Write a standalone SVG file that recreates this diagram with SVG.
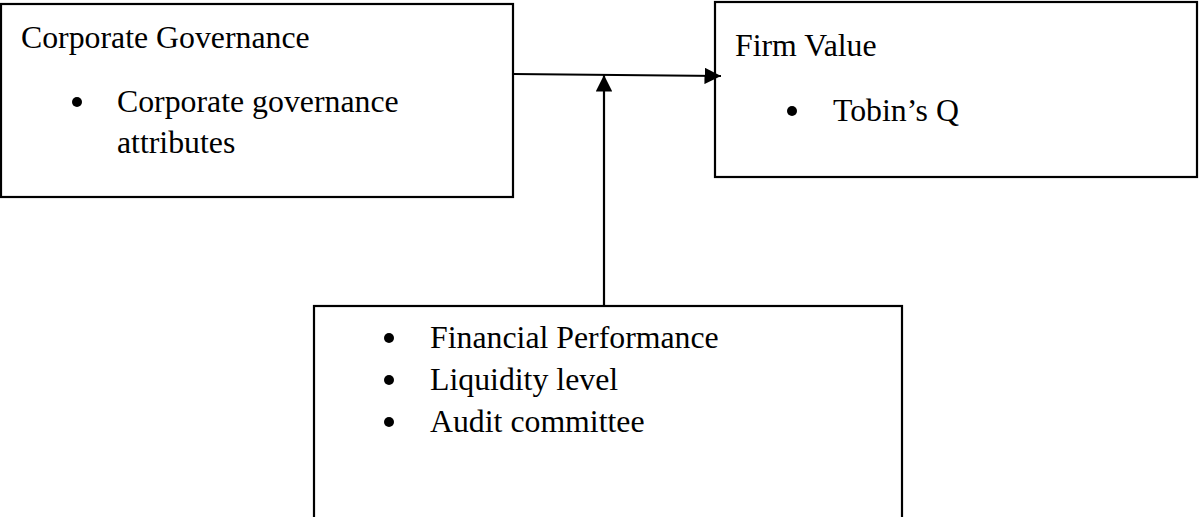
<svg xmlns="http://www.w3.org/2000/svg" width="1199" height="517" viewBox="0 0 1199 517">
<style>
.box{fill:#fff;stroke:#000;stroke-width:2.2}
.t{font-family:"Liberation Serif","Times New Roman",serif;font-size:31.8px;fill:#000}
.b{fill:#000}
.c{stroke:#000;stroke-width:2.2;fill:none}
</style>
<defs>
<marker id="ah" viewBox="0 0 10 10" refX="10" refY="5" markerWidth="7.5" markerHeight="7.5" markerUnits="strokeWidth" orient="auto">
<path d="M0,0 L10,5 L0,10 Z" fill="#000"/>
</marker>
</defs>
<rect width="1199" height="517" fill="#fff"/>
<g id="cg">
<rect class="box" x="1" y="4" width="512" height="193"/>
<text class="t" x="21" y="48">Corporate Governance</text>
<circle class="b" cx="77" cy="102" r="5"/>
<text class="t" x="117" y="112">Corporate governance</text>
<text class="t" x="117" y="153">attributes</text>
</g>
<g id="fv">
<rect class="box" x="715" y="2" width="482" height="175"/>
<text class="t" x="735" y="56">Firm Value</text>
<circle class="b" cx="792" cy="111" r="5"/>
<text class="t" x="833" y="121">Tobin’s Q</text>
</g>
<g id="mod">
<rect class="box" x="314" y="306" width="588" height="230"/>
<circle class="b" cx="389" cy="338" r="5"/>
<text class="t" x="430" y="348">Financial Performance</text>
<circle class="b" cx="389" cy="380" r="5"/>
<text class="t" x="430" y="390">Liquidity level</text>
<circle class="b" cx="389" cy="422" r="5"/>
<text class="t" x="430" y="432">Audit committee</text>
</g>
<g id="connectors">
<line class="c" x1="513" y1="74" x2="721" y2="76" marker-end="url(#ah)"/>
<line class="c" x1="604" y1="306" x2="604" y2="75" marker-end="url(#ah)"/>
</g>
</svg>
